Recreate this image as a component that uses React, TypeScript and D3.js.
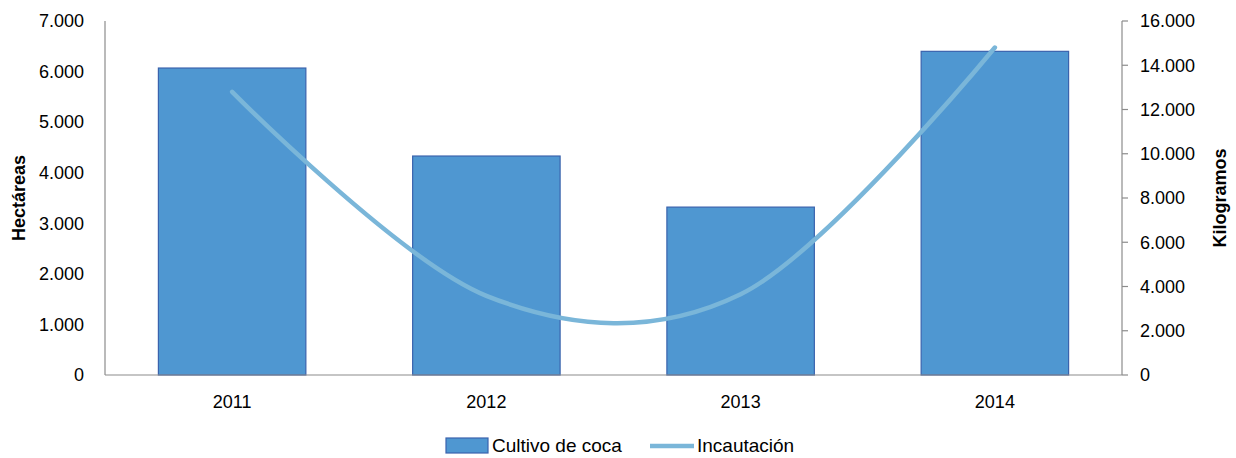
import React from "react";
import * as d3 from "d3";

const years = ["2011", "2012", "2013", "2014"];
const cultivo = [6070, 4330, 3320, 6400];
const incautacion = [12800, 3580, 3650, 14800];
const leftTicks = [0, 1000, 2000, 3000, 4000, 5000, 6000, 7000];
const rightTicks = [0, 2000, 4000, 6000, 8000, 10000, 12000, 14000, 16000];

const W = 1236;
const H = 458;
const m = { left: 105, right: 1122, top: 21, bottom: 375 };
const FONT = "'Liberation Sans', Arial, sans-serif";

const fmt = (v: number) => d3.format(",")(v).replace(/,/g, ".");

export default function App() {
  const x = d3.scaleBand<string>().domain(years).range([m.left, m.right]).paddingInner(0.42).paddingOuter(0.21);
  const yL = d3.scaleLinear().domain([0, 7000]).range([m.bottom, m.top]);
  const yR = d3.scaleLinear().domain([0, 16000]).range([m.bottom, m.top]);
  const line = d3
    .line<number>()
    .x((_, i) => (x(years[i]) as number) + x.bandwidth() / 2)
    .y((d) => yR(d))
    .curve(d3.curveCardinal.tension(0));

  const barFill = "#4F97D1";
  const barStroke = "#3A63AD";
  const lineColor = "#7AB6D9";
  const axisColor = "#8C8C8C";

  return (
    <svg width={W} height={H} style={{ position: "absolute", left: 0, top: 0, background: "#fff" }} fontFamily={FONT}>
      {/* bars */}
      {cultivo.map((v, i) => (
        <rect
          key={years[i]}
          x={x(years[i])}
          y={yL(v)}
          width={x.bandwidth()}
          height={yL(0) - yL(v)}
          fill={barFill}
          stroke={barStroke}
          strokeWidth={1.2}
        />
      ))}
      {/* axes */}
      <line x1={m.left} x2={m.left} y1={m.top} y2={m.bottom} stroke={axisColor} strokeWidth={1.2} />
      <line x1={m.right} x2={m.right} y1={m.top} y2={m.bottom} stroke={axisColor} strokeWidth={1.2} />
      <line x1={m.left} x2={m.right} y1={m.bottom} y2={m.bottom} stroke={axisColor} strokeWidth={1.2} />
      {rightTicks.map((t) => (
        <line key={t} x1={m.right} x2={m.right + 6} y1={yR(t)} y2={yR(t)} stroke={axisColor} strokeWidth={1.2} />
      ))}
      {/* line */}
      <path d={line(incautacion) || ""} fill="none" stroke={lineColor} strokeWidth={4.5} strokeLinecap="round" />
      {/* left tick labels */}
      {leftTicks.map((t) => (
        <text key={t} x={84} y={yL(t)} dy="0.35em" textAnchor="end" fontSize={18} fill="#000">
          {fmt(t)}
        </text>
      ))}
      {/* right tick labels */}
      {rightTicks.map((t) => (
        <text key={t} x={1140} y={yR(t)} dy="0.35em" textAnchor="start" fontSize={18} fill="#000">
          {fmt(t)}
        </text>
      ))}
      {/* category labels */}
      {years.map((yv) => (
        <text key={yv} x={(x(yv) as number) + x.bandwidth() / 2} y={408} textAnchor="middle" fontSize={18} fill="#000">
          {yv}
        </text>
      ))}
      {/* axis titles */}
      <text transform={`translate(25,198) rotate(-90)`} textAnchor="middle" fontSize={18} fontWeight="bold" fill="#000">
        Hectáreas
      </text>
      <text transform={`translate(1226,198) rotate(-90)`} textAnchor="middle" fontSize={18} fontWeight="bold" fill="#000">
        Kilogramos
      </text>
      {/* legend */}
      <rect x={446} y={438} width={42} height={15} fill={barFill} stroke={barStroke} strokeWidth={1.2} />
      <text x={492} y={452} fontSize={19} fill="#000">Cultivo de coca</text>
      <line x1={650} x2={694} y1={446} y2={446} stroke={lineColor} strokeWidth={4.5} />
      <text x={697} y={452} fontSize={19} fill="#000">Incautación</text>
    </svg>
  );
}
